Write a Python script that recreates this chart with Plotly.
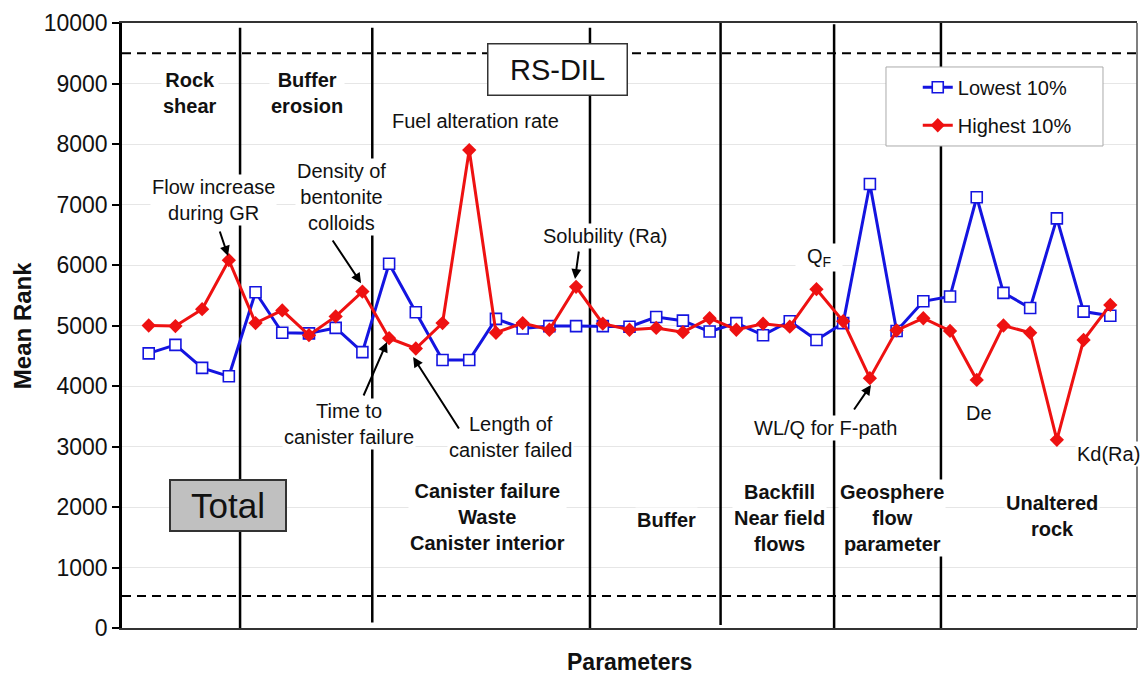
import plotly.graph_objects as go

# Parameter index along the x axis (37 parameters)
param_index = list(range(1, 38))

lowest_10 = [4540, 4680, 4300, 4160, 5550, 4880, 4870, 4960, 4560,
             6020, 5220, 4430, 4430, 5110, 4950, 4990, 4990,
             4990, 4980, 5140, 5080, 4900,
             5040, 4840, 5070, 4760,
             5040, 7340, 4910, 5400,
             5480, 7120, 5540, 5290, 6770, 5230, 5160]

highest_10 = [5000, 4990, 5270, 6080, 5040, 5250, 4840, 5150, 5560,
              4790, 4620, 5040, 7900, 4880, 5040, 4930, 5640,
              5030, 4930, 4960, 4890, 5120,
              4930, 5030, 4980, 5600,
              5070, 4130, 4920, 5120,
              4910, 4100, 5000, 4880, 3110, 4760, 5340]

# Group boundaries (x position, top, bottom of the divider)
dividers = [(4.42, 9920, 0), (9.37, 9920, 90), (17.52, 9920, 0),
            (22.41, 10000, 50), (26.66, 9980, 0), (30.66, 10000, 0)]

# Reference levels drawn as dashed lines
upper_level = 9500
lower_level = 530

FONT = "Liberation Sans, Arial, sans-serif"
BLUE = "#1414e0"
RED = "#ee1111"

fig = go.Figure()

fig.add_trace(go.Scatter(
    x=param_index, y=lowest_10, mode="lines+markers", name="Lowest 10%",
    legendgroup="low",
    line=dict(color=BLUE, width=3),
    marker=dict(symbol="square", size=11, color="white",
                line=dict(color=BLUE, width=1.6)),
))
fig.add_trace(go.Scatter(
    x=param_index, y=highest_10, mode="lines+markers", name="Highest 10%",
    legendgroup="high",
    line=dict(color=RED, width=3),
    marker=dict(symbol="diamond", size=11, color=RED,
                line=dict(color=RED, width=0)),
))

shapes = []
for xv, top, bottom in dividers:
    shapes.append(dict(type="line", xref="x", yref="y", x0=xv, x1=xv,
                       y0=bottom, y1=top, layer="between",
                       line=dict(color="black", width=2.5)))
for level in (upper_level, lower_level):
    shapes.append(dict(type="line", xref="paper", yref="y", x0=0, x1=1,
                       y0=level, y1=level, layer="between",
                       line=dict(color="black", width=2, dash="9px,6px")))
# right frame edge
shapes.append(dict(type="line", xref="paper", yref="paper", x0=1, x1=1,
                   y0=0, y1=1, layer="above",
                   line=dict(color="#555555", width=1.5)))
# legend frame
shapes.append(dict(type="rect", xref="paper", yref="paper",
                   x0=0.7527, x1=0.9665, y0=0.7967, y1=0.9273, layer="above",
                   fillcolor="white", line=dict(color="#aaaaaa", width=1)))

annotations = []


def label(x, y, text, bold=False, size=20, width=None):
    if bold:
        text = "<b>" + text + "</b>"
    ann = dict(x=x, y=y, xref="x", yref="y", text=text,
               showarrow=False, xanchor="center", yanchor="middle",
               align="center", bgcolor="white", borderpad=1,
               font=dict(family=FONT, size=size, color="#111111"))
    if width:
        ann["width"] = width
    annotations.append(ann)


label(2.546, 8843, "Rock<br>shear", bold=True)
label(6.926, 8843, "Buffer<br>erosion", bold=True)
label(13.25, 8380, "Fuel alteration rate")
label(3.407, 7074, "Flow increase<br>during GR")
label(8.2, 7124, "Density of<br>bentonite<br>colloids")
label(8.5, 3372, "Time to<br>canister failure")
label(14.53, 3157, "Length of<br>canister failed")
label(13.70, 1835, "Canister failure<br>Waste<br>Canister interior", bold=True)
label(20.40, 1785, "Buffer", bold=True)
label(24.63, 1818, "Backfill<br>Near field<br>flows", bold=True)
label(28.83, 1818, "Geosphere<br>flow<br>parameter", bold=True)
label(34.82, 1851, "Unaltered<br>rock", bold=True)
label(18.08, 6479, "Solubility (Ra)")
label(26.1, 6120, "Q<sub>F</sub>", width=44)
label(26.32, 3306, "WL/Q for F-path")
label(32.09, 3554, "De")
label(36.95, 2876, "Kd(Ra)")

# boxed labels
annotations.append(dict(x=16.29, y=9231, xref="x", yref="y", text="RS-DIL",
                        showarrow=False, bgcolor="white", bordercolor="#333333",
                        borderwidth=1.5, borderpad=0, width=138, height=50,
                        font=dict(family=FONT, size=29, color="#111111")))
annotations.append(dict(x=3.97, y=2017, xref="x", yref="y", text="Total",
                        showarrow=False, bgcolor="#c0c0c0", bordercolor="#333333",
                        borderwidth=2, borderpad=0, width=114, height=49,
                        font=dict(family=FONT, size=35, color="#111111")))

# arrows: (tail x, tail y, head x, head y)
arrows = [(3.643, 6579, 3.97, 6150),
          (7.85, 6430, 8.95, 5700),
          (9.02, 3818, 9.92, 4727),
          (12.65, 3273, 10.9, 4479),
          (17.11, 6248, 16.96, 5769),
          (27.37, 3587, 28.04, 4017)]
for tx, ty, hx, hy in arrows:
    annotations.append(dict(x=hx, y=hy, ax=tx, ay=ty, xref="x", yref="y",
                            axref="x", ayref="y", text="", showarrow=True,
                            arrowhead=2, arrowsize=1, arrowwidth=2,
                            arrowcolor="black", standoff=0))

# axis titles
annotations.append(dict(x=-0.0985, y=0.499, xref="paper", yref="paper",
                        text="<b>Mean Rank</b>", textangle=-90, showarrow=False,
                        xanchor="center", yanchor="middle",
                        font=dict(family=FONT, size=24, color="#111111")))
annotations.append(dict(x=0.5, y=-0.056, xref="paper", yref="paper",
                        text="<b>Parameters</b>", showarrow=False,
                        xanchor="center", yanchor="middle",
                        font=dict(family=FONT, size=23, color="#111111")))

fig.update_layout(
    width=1141, height=675,
    margin=dict(l=122, r=4, t=23, b=47),
    plot_bgcolor="white", paper_bgcolor="white",
    font=dict(family=FONT, color="#111111"),
    shapes=shapes, annotations=annotations,
    legend=dict(x=0.784, y=0.926, xanchor="left", yanchor="top",
                bgcolor="rgba(0,0,0,0)", borderwidth=0,
                tracegroupgap=9, traceorder="grouped",
                font=dict(family=FONT, size=20, color="#111111")),
    xaxis=dict(range=[0, 38], showgrid=False, showticklabels=False, ticks="",
               zeroline=False, showline=True, linecolor="#333333",
               linewidth=1.5, mirror=True),
    yaxis=dict(range=[0, 10000], dtick=1000, tickformat="d", ticks="outside",
               ticklen=7, tickwidth=2, tickcolor="black", showline=True,
               linecolor="black", linewidth=2.5, gridcolor="#e6e6e6",
               gridwidth=1, zeroline=False,
               tickfont=dict(family=FONT, size=23, color="#111111")),
)

fig.write_html("out.html")
